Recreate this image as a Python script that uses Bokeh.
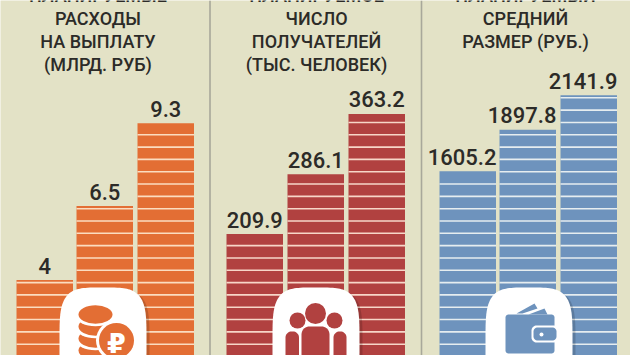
from bokeh.plotting import figure
from bokeh.models import Range1d
from bokeh.core.properties import value
from bokeh.embed import file_html
from bokeh.resources import INLINE
import numpy as np

expenses = [4, 6.5, 9.3]
recipients = [209.9, 286.1, 363.2]
avg_size = [1605.2, 1897.8, 2141.9]
expense_labels = ["4", "6.5", "9.3"]
recipient_labels = ["209.9", "286.1", "363.2"]
avg_labels = ["1605.2", "1897.8", "2141.9"]
titles = [
    ["ПЛАНИРУЕМЫЕ", "РАСХОДЫ", "НА ВЫПЛАТУ", "(МЛРД. РУБ)"],
    ["ПЛАНИРУЕМОЕ", "ЧИСЛО", "ПОЛУЧАТЕЛЕЙ", "(ТЫС. ЧЕЛОВЕК)"],
    ["ПЛАНИРУЕМЫЙ", "СРЕДНИЙ", "РАЗМЕР (РУБ.)"],
]

W, H = 630, 355
BG = "#e3e2c6"
TXT = "#2c2b28"
FONT = value("Roboto Medium")
BASE = 398.0  # pixel row of a value of zero, below the visible window
TEXT_SHIFT = 7.0

p = figure(width=W, height=H, x_range=Range1d(0, W), y_range=Range1d(H, 0),
           toolbar_location=None, output_backend="svg", min_border=0,
           background_fill_color=BG, border_fill_color=BG, outline_line_color=None,
           styles={"position": "absolute", "left": "0px", "top": "0px"})
p.axis.visible = False
p.grid.visible = False

panels = [
    dict(vals=expenses, labels=expense_labels, ppu=29.6, lefts=[16, 76, 137], color="#e36e34",
         stripe="#fbdcc0", name="a", cx=97.5, anchor="center"),
    dict(vals=recipients, labels=recipient_labels, ppu=0.7835, lefts=[226, 287, 348], color="#b14140",
         stripe="#f7d6c8", name="b", cx=316, anchor="center"),
    dict(vals=avg_size, labels=avg_labels, ppu=0.1416, lefts=[439, 499, 560], color="#6e93bd",
         stripe="#e6edf0", name="c", cx=525, anchor="right"),
]
BAR_W = 56.5
PITCH = 12.32
LAST_STRIPE = 343.7

for pn in panels:
    p.extra_y_ranges[pn["name"]] = Range1d((BASE - H) / pn["ppu"], BASE / pn["ppu"])

for pn in panels:
    l = np.array(pn["lefts"], float)
    r = l + BAR_W
    v = np.array(pn["vals"], float)
    p.quad(left=l, right=r, bottom=0, top=v, color=pn["color"], line_color=None, y_range_name=pn["name"])
    xs0, xs1, ys = [], [], []
    for li, ri, vi in zip(l, r, v):
        top_px = BASE - vi * pn["ppu"]
        y = LAST_STRIPE
        while y > top_px + 1:
            xs0.append(li); xs1.append(ri); ys.append(y)
            y -= PITCH
    p.segment(xs0, ys, xs1, ys, line_color=pn["stripe"], line_width=1.6)
    tx = (l + r) / 2 if pn["anchor"] == "center" else r + 0.5
    p.text(tx, v, text=pn["labels"], y_range_name=pn["name"], text_font=FONT, text_font_size="22px",
           text_color=TXT, text_align=pn["anchor"], text_baseline="alphabetic", y_offset=-7.5 - TEXT_SHIFT)

p.segment([209.5, 421], [0, 0], [209.5, 421], [H, H], line_color="#a8a89a", line_width=1.6)

rows = [1.5, 25.2, 48, 71]
for pn, lines in zip(panels, titles):
    p.text([pn["cx"]] * len(lines), rows[:len(lines)], text=lines, text_font=FONT, text_font_size="18px",
           text_color=TXT, text_align="center", text_baseline="alphabetic", y_offset=-TEXT_SHIFT)


def squircle(x0, x1, y0, y1, n=4.0):
    t = np.linspace(0, 2 * np.pi, 160)
    cx, cy = (x0 + x1) / 2, (y0 + y1) / 2
    a, b = (x1 - x0) / 2, (y1 - y0) / 2
    return (cx + a * np.sign(np.cos(t)) * np.abs(np.cos(t)) ** (2 / n),
            cy + b * np.sign(np.sin(t)) * np.abs(np.sin(t)) ** (2 / n))


def round_rect(x0, x1, y0, y1, rad):
    pts_x, pts_y = [], []
    for cx, cy, a0 in [(x1 - rad, y0 + rad, -90), (x1 - rad, y1 - rad, 0), (x0 + rad, y1 - rad, 90), (x0 + rad, y0 + rad, 180)]:
        ang = np.radians(np.linspace(a0, a0 + 90, 10))
        pts_x += list(cx + rad * np.cos(ang))
        pts_y += list(cy + rad * np.sin(ang))
    return pts_x, pts_y


for x0 in [59, 272, 485]:
    sx, sy = squircle(x0 + 2, x0 + 90, 289, 400)
    p.patch(sx, sy, color="#000000", alpha=0.16, line_color=None)
    wx, wy = squircle(x0, x0 + 87, 287, 398)
    p.patch(wx, wy, color="#ffffff", line_color=None)

# coins, painted from the bottom up
ORANGE = panels[0]["color"]
for c in [350, 338, 326]:
    p.ellipse(95, c, width=34, height=18.5, color=ORANGE, line_color=None)
    p.ellipse(95, c - 9.5, width=38, height=18.5, color="#ffffff", line_color=None)
p.ellipse(95, 314, width=34, height=18.5, color=ORANGE, line_color=None)
p.ellipse(116, 340, width=41, height=41, color="#ffffff", line_color=None)
p.ellipse(116, 340, width=35, height=35, color=ORANGE, line_color=None)
p.text([116], [350], text=["₽"], text_font=value("DejaVu Sans"), text_font_style="bold", text_font_size="27px",
       text_color="#ffffff", text_align="center", text_baseline="alphabetic", y_offset=-TEXT_SHIFT)

RED = panels[1]["color"]
p.ellipse(315, 313, width=21, height=21, color=RED, line_color=None)
p.ellipse(297, 320, width=16, height=16, color=RED, line_color=None)
p.ellipse(334, 320, width=16, height=16, color=RED, line_color=None)
for a, b, c, d, rad in [(301, 329, 326, 362, 8), (285, 298.5, 331, 362, 6), (333, 346, 331, 362, 6)]:
    x, y = round_rect(a, b, c, d, rad)
    p.patch(x, y, color=RED, line_color=None)

BLUE = panels[2]["color"]
x, y = round_rect(505, 554, 314, 353, 3)
p.patch(x, y, color=BLUE, line_color=None)
p.patch([516, 534, 537, 522], [313, 303, 308, 313], color=BLUE, line_color=None)
p.patch([528, 544, 547, 547], [314, 308, 314, 314], color=BLUE, line_color=None)
x, y = round_rect(531, 558, 325, 342, 5)
p.patch(x, y, color="#ffffff", line_color=None)
x, y = round_rect(533, 556, 327, 340, 4)
p.patch(x, y, color=BLUE, line_color=None)
p.ellipse(541, 334, width=4, height=4, color="#ffffff", line_color=None)

open("out.html", "w").write(file_html(p, INLINE))
